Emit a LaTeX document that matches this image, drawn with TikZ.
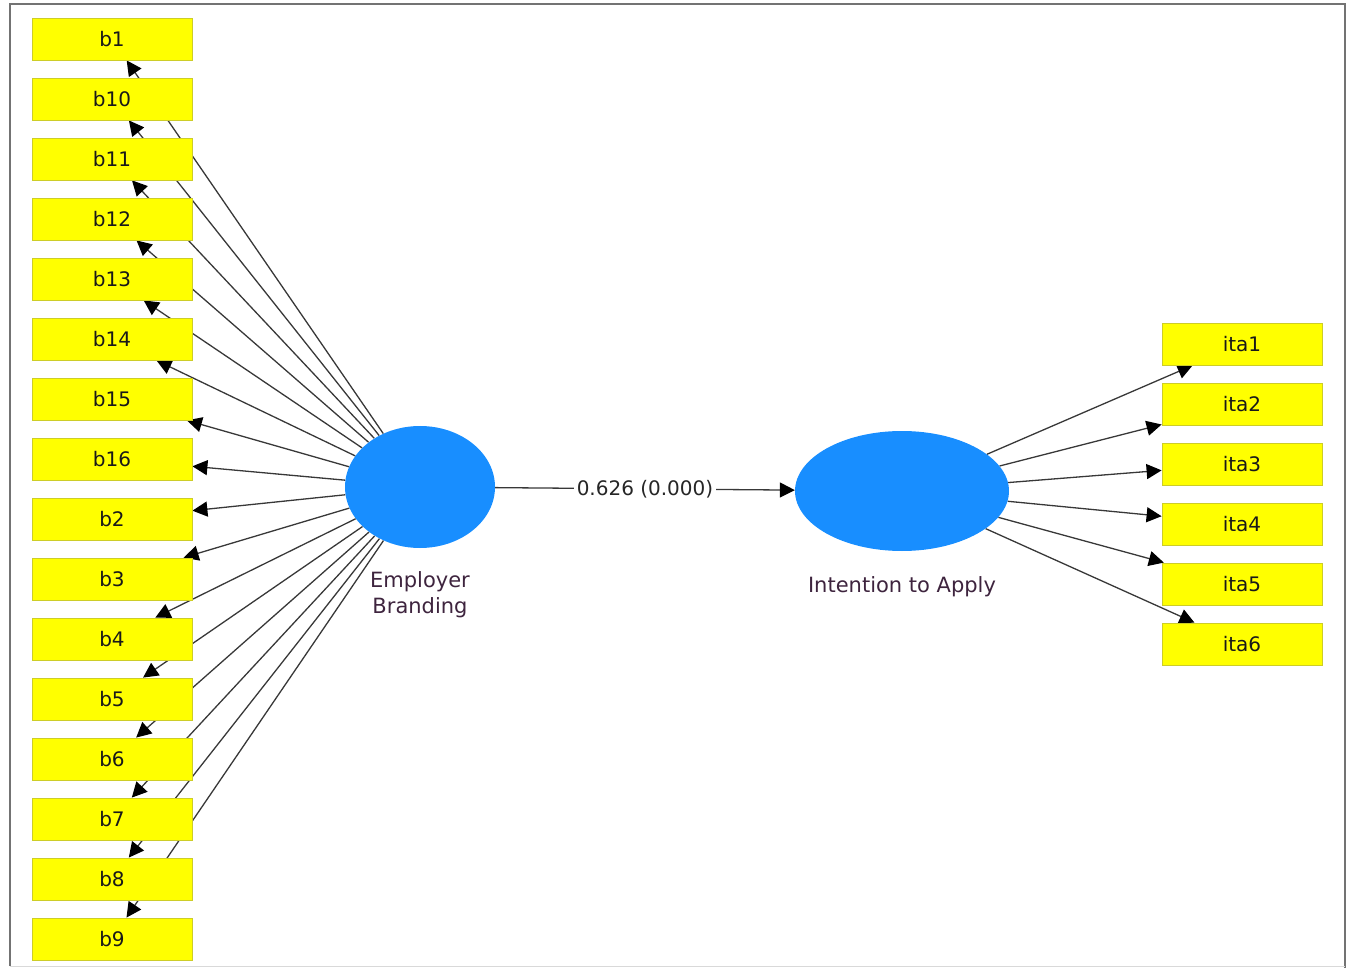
\documentclass[tikz,border=0pt]{standalone}
\usepackage{fontspec}
\setmainfont{DejaVu Sans}
\usetikzlibrary{positioning, arrows.meta, shapes.geometric, backgrounds}

\definecolor{latentblue}{RGB}{24,142,255}
\definecolor{indyellow}{RGB}{255,255,0}
\definecolor{indedge}{RGB}{205,205,40}
\definecolor{labelpurple}{RGB}{62,36,62}

\tikzset{
    indicator/.style={rectangle, draw=indedge, fill=indyellow, line width=0.8pt,
        minimum width=160pt, minimum height=42pt, inner sep=0pt,
        font=\fontsize{20}{24}\selectfont, text=black!90},
    latent/.style={ellipse, fill=latentblue, inner sep=0pt},
    loading/.style={draw=black!78, line width=1.3pt,
        -{Triangle[length=15pt, width=15pt, color=black]}},
}

\begin{document}
\begin{tikzpicture}[x=1pt, y=-1pt]
    \useasboundingbox (0,0) rectangle (1353,968);
    \draw[black!55, line width=2.5pt] (10,966) -- (10,4) -- (1345,4) -- (1345,968);
    \draw[black!15, line width=1pt] (10,966) -- (1345,966);

    % latent variables
    \node[latent, minimum width=150pt, minimum height=122pt] (eb) at (420,487) {};
    \node[latent, minimum width=214pt, minimum height=120pt] (ia) at (902,491) {};
    \node[below=20pt of eb, align=center, text=labelpurple, font=\fontsize{21}{26}\selectfont] (eblabel) {Employer\\Branding};
    \node[below=22pt of ia, text=labelpurple, font=\fontsize{21}{26}\selectfont] (ialabel) {Intention to Apply};

    % indicators
    \foreach \name [count=\i from 0] in {b1,b10,b11,b12,b13,b14,b15,b16,b2,b3,b4,b5,b6,b7,b8,b9}
        \node[indicator] (\name) at (112,39+60*\i) {\name};
    \foreach \k in {1,...,6}
        \node[indicator] (ita\k) at (1242,284+60*\k) {ita\k};

    \begin{scope}[on background layer]
        \foreach \name in {b1,b10,b11,b12,b13,b14,b15,b16,b2,b3,b4,b5,b6,b7,b8,b9}
            \draw[loading] (eb) -- (\name);
        \foreach \k in {1,...,6}
            \draw[loading] (ia) -- (ita\k);
    \end{scope}

    % path coefficient
    \draw[loading] (eb) -- node[fill=white, inner sep=3pt, font=\fontsize{20}{24}\selectfont, text=black!85] (coef) {0.626 (0.000)} (ia);
\end{tikzpicture}
\end{document}
